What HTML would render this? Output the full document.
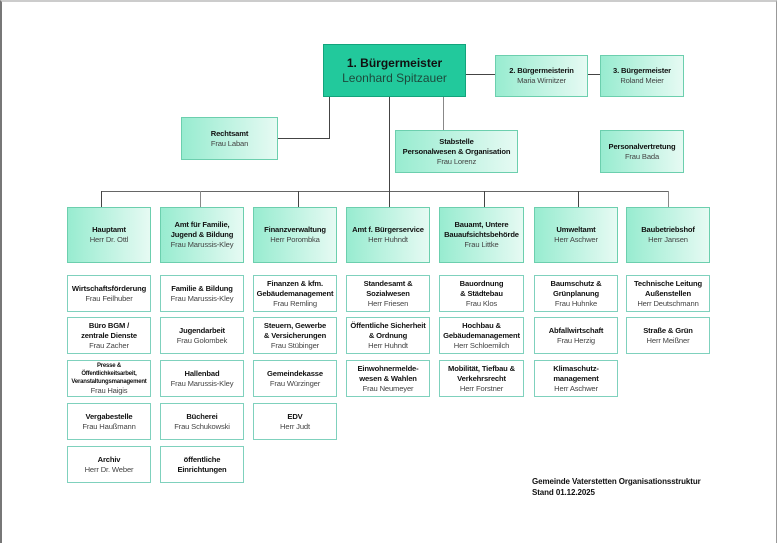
<!DOCTYPE html>
<html><head><meta charset="utf-8"><style>
body{margin:0;width:780px;height:544px;background:#fff;position:relative;overflow:hidden;font-family:"Liberation Sans Narrow","Liberation Sans",sans-serif;}
.frame{position:absolute;left:0;top:0;width:777px;height:543px;border-left:2px solid #777;border-top:2px solid #ccc;border-right:1px solid #999;box-sizing:border-box;}
.b{position:absolute;box-sizing:border-box;display:flex;flex-direction:column;justify-content:center;align-items:center;text-align:center;color:#222;font-size:7.6px;line-height:10px;letter-spacing:-0.15px;white-space:nowrap;}
.g{background:linear-gradient(90deg,#98ecd0,#e6faf3);border:1px solid #6ccfae;}
.w{background:#fff;border:1px solid #7fd1bd;}
.t{font-weight:bold;color:#111;}
.n{color:#444;}
.l{position:absolute;background:#444;}
</style></head><body>
<div class="frame"></div>
<div class="l" style="left:466px;top:74px;width:29px;height:1px"></div>
<div class="l" style="left:588px;top:74px;width:12px;height:1px"></div>
<div class="l" style="left:329px;top:97px;width:1px;height:41px"></div>
<div class="l" style="left:278px;top:138px;width:52px;height:1px"></div>
<div class="l" style="left:443px;top:97px;width:1px;height:33px;background:#888"></div>
<div class="l" style="left:389px;top:97px;width:1px;height:94px"></div>
<div class="l" style="left:101px;top:191px;width:568px;height:1px;background:#666"></div>
<div class="l" style="left:101px;top:191px;width:1px;height:16px"></div>
<div class="l" style="left:200px;top:191px;width:1px;height:16px;background:#888"></div>
<div class="l" style="left:298px;top:191px;width:1px;height:16px"></div>
<div class="l" style="left:389px;top:191px;width:1px;height:16px"></div>
<div class="l" style="left:484px;top:191px;width:1px;height:16px"></div>
<div class="l" style="left:578px;top:191px;width:1px;height:16px"></div>
<div class="l" style="left:668px;top:191px;width:1px;height:16px;background:#888"></div>

<div class="b" style="left:323px;top:44px;width:143px;height:53px;background:#22c99c;border:1px solid #12a47c;font-size:12px;line-height:15px;letter-spacing:0"><span class="t">1. Bürgermeister</span><span style="color:#1d4a3c">Leonhard Spitzauer</span></div>
<div class="b g" style="left:495px;top:55px;width:93px;height:42px"><span class="t">2. Bürgermeisterin</span><span class="n">Maria Wirnitzer</span></div>
<div class="b g" style="left:600px;top:55px;width:84px;height:42px"><span class="t">3. Bürgermeister</span><span class="n">Roland Meier</span></div>
<div class="b g" style="left:181px;top:117px;width:97px;height:43px"><span class="t">Rechtsamt</span><span class="n">Frau Laban</span></div>
<div class="b g" style="left:395px;top:130px;width:123px;height:43px"><span class="t">Stabstelle<br>Personalwesen &amp; Organisation</span><span class="n">Frau Lorenz</span></div>
<div class="b g" style="left:600px;top:130px;width:84px;height:43px"><span class="t">Personalvertretung</span><span class="n">Frau Bada</span></div>

<div class="b g" style="left:67px;top:207px;width:84px;height:56px"><span class="t">Hauptamt</span><span class="n">Herr Dr. Ottl</span></div>
<div class="b g" style="left:160px;top:207px;width:84px;height:56px"><span class="t">Amt für Familie,<br>Jugend &amp; Bildung</span><span class="n">Frau Marussis-Kley</span></div>
<div class="b g" style="left:253px;top:207px;width:84px;height:56px"><span class="t">Finanzverwaltung</span><span class="n">Herr Porombka</span></div>
<div class="b g" style="left:346px;top:207px;width:84px;height:56px"><span class="t">Amt f. Bürgerservice</span><span class="n">Herr Huhndt</span></div>
<div class="b g" style="left:439px;top:207px;width:85px;height:56px"><span class="t">Bauamt, Untere<br>Bauaufsichtsbehörde</span><span class="n">Frau Littke</span></div>
<div class="b g" style="left:534px;top:207px;width:84px;height:56px"><span class="t">Umweltamt</span><span class="n">Herr Aschwer</span></div>
<div class="b g" style="left:626px;top:207px;width:84px;height:56px"><span class="t">Baubetriebshof</span><span class="n">Herr Jansen</span></div>

<div class="b w" style="left:67px;top:275px;width:84px;height:37px"><span class="t">Wirtschaftsförderung</span><span class="n">Frau Feilhuber</span></div>
<div class="b w" style="left:67px;top:317px;width:84px;height:37px"><span class="t">Büro BGM /<br>zentrale Dienste</span><span class="n">Frau Zacher</span></div>
<div class="b w" style="left:67px;top:360px;width:84px;height:37px;font-size:6px;line-height:8px;letter-spacing:-0.2px"><span class="t">Presse &amp;<br>Öffentlichkeitsarbeit,<br>Veranstaltungsmanagement</span><span class="n" style="font-size:7.6px;line-height:10px">Frau Haigis</span></div>
<div class="b w" style="left:67px;top:403px;width:84px;height:37px"><span class="t">Vergabestelle</span><span class="n">Frau Haußmann</span></div>
<div class="b w" style="left:67px;top:446px;width:84px;height:37px"><span class="t">Archiv</span><span class="n">Herr Dr. Weber</span></div>

<div class="b w" style="left:160px;top:275px;width:84px;height:37px"><span class="t">Familie &amp; Bildung</span><span class="n">Frau Marussis-Kley</span></div>
<div class="b w" style="left:160px;top:317px;width:84px;height:37px"><span class="t">Jugendarbeit</span><span class="n">Frau Golombek</span></div>
<div class="b w" style="left:160px;top:360px;width:84px;height:37px"><span class="t">Hallenbad</span><span class="n">Frau Marussis-Kley</span></div>
<div class="b w" style="left:160px;top:403px;width:84px;height:37px"><span class="t">Bücherei</span><span class="n">Frau Schukowski</span></div>
<div class="b w" style="left:160px;top:446px;width:84px;height:37px"><span class="t">öffentliche<br>Einrichtungen</span></div>

<div class="b w" style="left:253px;top:275px;width:84px;height:37px"><span class="t">Finanzen &amp; kfm.<br>Gebäudemanagement</span><span class="n">Frau Remling</span></div>
<div class="b w" style="left:253px;top:317px;width:84px;height:37px"><span class="t">Steuern, Gewerbe<br>&amp; Versicherungen</span><span class="n">Frau Stübinger</span></div>
<div class="b w" style="left:253px;top:360px;width:84px;height:37px"><span class="t">Gemeindekasse</span><span class="n">Frau Würzinger</span></div>
<div class="b w" style="left:253px;top:403px;width:84px;height:37px"><span class="t">EDV</span><span class="n">Herr Judt</span></div>

<div class="b w" style="left:346px;top:275px;width:84px;height:37px"><span class="t">Standesamt &amp;<br>Sozialwesen</span><span class="n">Herr Friesen</span></div>
<div class="b w" style="left:346px;top:317px;width:84px;height:37px"><span class="t">Öffentliche Sicherheit<br>&amp; Ordnung</span><span class="n">Herr Huhndt</span></div>
<div class="b w" style="left:346px;top:360px;width:84px;height:37px"><span class="t">Einwohnermelde-<br>wesen &amp; Wahlen</span><span class="n">Frau Neumeyer</span></div>

<div class="b w" style="left:439px;top:275px;width:85px;height:37px"><span class="t">Bauordnung<br>&amp; Städtebau</span><span class="n">Frau Klos</span></div>
<div class="b w" style="left:439px;top:317px;width:85px;height:37px"><span class="t">Hochbau &amp;<br>Gebäudemanagement</span><span class="n">Herr Schloemilch</span></div>
<div class="b w" style="left:439px;top:360px;width:85px;height:37px"><span class="t">Mobilität, Tiefbau &amp;<br>Verkehrsrecht</span><span class="n">Herr Forstner</span></div>

<div class="b w" style="left:534px;top:275px;width:84px;height:37px"><span class="t">Baumschutz &amp;<br>Grünplanung</span><span class="n">Frau Huhnke</span></div>
<div class="b w" style="left:534px;top:317px;width:84px;height:37px"><span class="t">Abfallwirtschaft</span><span class="n">Frau Herzig</span></div>
<div class="b w" style="left:534px;top:360px;width:84px;height:37px"><span class="t">Klimaschutz-<br>management</span><span class="n">Herr Aschwer</span></div>

<div class="b w" style="left:626px;top:275px;width:84px;height:37px"><span class="t">Technische Leitung<br>Außenstellen</span><span class="n">Herr Deutschmann</span></div>
<div class="b w" style="left:626px;top:317px;width:84px;height:37px"><span class="t">Straße &amp; Grün</span><span class="n">Herr Meißner</span></div>

<div style="position:absolute;left:532px;top:476px;font-size:8px;line-height:11px;font-weight:bold;color:#111;letter-spacing:-0.1px">Gemeinde Vaterstetten Organisationsstruktur<br>Stand 01.12.2025</div>
</body></html>
